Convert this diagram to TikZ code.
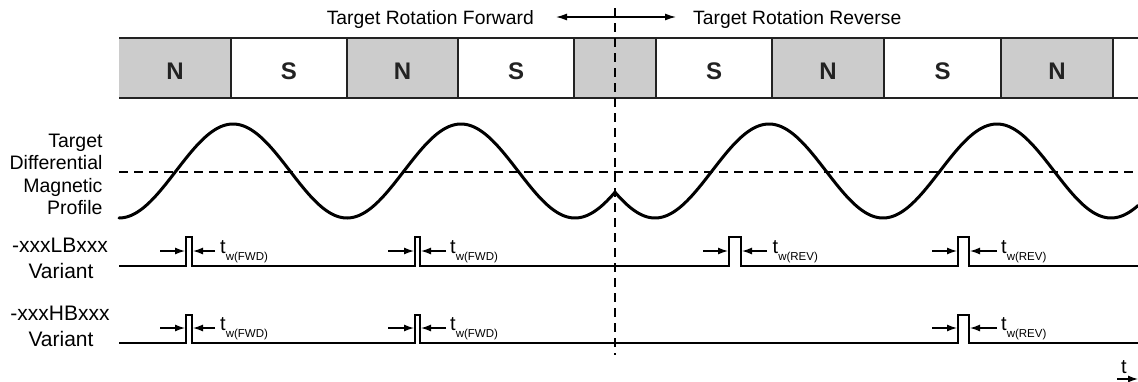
\documentclass[tikz,border=0pt]{standalone}
\usepackage{fontspec}
\setmainfont{Liberation Sans}
\usetikzlibrary{arrows.meta}
\definecolor{polegray}{HTML}{CCCCCC}
\definecolor{edgecol}{HTML}{222222}
\begin{document}
\begin{tikzpicture}[x=1pt,y=-1pt,
  poletxt/.style={font=\fontsize{24}{24}\selectfont\bfseries, inner sep=0pt, text=edgecol},
  lab/.style={font=\fontsize{19.5}{22}\selectfont, inner sep=0pt, anchor=base east},
  varlab/.style={font=\fontsize{21}{24}\selectfont, inner sep=0pt, anchor=base},
  toplab/.style={font=\fontsize{19.3}{22}\selectfont, inner sep=0pt},
  twlab/.style={font=\fontsize{20}{22}\selectfont, inner sep=0pt, anchor=base west},
  stripline/.style={draw=edgecol, line width=2.4pt},
  wave/.style={line width=3pt, line cap=round, line join=round},
  midline/.style={line width=2.4pt, dash pattern=on 9pt off 6pt},
  signal/.style={line width=2.4pt, line join=miter},
  dimarrow/.style={line width=1.3pt, -{Latex[length=10pt,width=7pt]}},
  dirarrow/.style={line width=1.3pt, -{Latex[length=11pt,width=7pt]}},
]
\useasboundingbox (0,0) rectangle (1138,381);

% ---- pole strip ----
\foreach \a/\b in {119/231,347/458,574/656,772/884,1001/1113}
  \fill[polegray] (\a,38) rectangle (\b,98);
\foreach \xx in {231,347,458,574,656,772,884,1001,1113}
  \draw[stripline] (\xx,38) -- (\xx,98);
\draw[stripline] (119,38) -- (1138,38);
\draw[stripline] (119,98) -- (1138,98);

\node[poletxt] (p1) at (175,71) {N};
\node[poletxt] (p2) at (289,71) {S};
\node[poletxt] (p3) at (402.5,71) {N};
\node[poletxt] (p4) at (516,71) {S};
\node[poletxt] (p6) at (714,71) {S};
\node[poletxt] (p7) at (828,71) {N};
\node[poletxt] (p8) at (942.5,71) {S};
\node[poletxt] (p9) at (1057,71) {N};

% ---- direction labels ----
\node[toplab, anchor=base east] (fwd) at (534,24) {Target Rotation Forward};
\node[toplab, anchor=base west] (rev) at (693,24) {Target Rotation Reverse};
\coordinate (dirc) at (615,17);
\coordinate (dirl) at (556,17);
\coordinate (dirr) at (676,17);
\draw[dirarrow] (dirc) -- (dirl);
\draw[dirarrow] (dirc) -- (dirr);

% ---- reversal line ----
\coordinate (revtop) at (615,8);
\coordinate (revbot) at (615,355);
\draw[midline] (revtop) -- (revbot);

% ---- magnetic profile ----
\node[lab] (l1) at (102.7,147.7) {Target};
\node[lab] (l2) at (102.7,169.9) {Differential};
\node[lab] (l3) at (102.7,192.1) {Magnetic};
\node[lab] (l4) at (102.7,214.3) {Profile};
\draw[midline] (119,172) -- (1138,172);
\draw[wave] plot[domain=119:615, samples=240] (\x, {171+47*cos((\x-119)*1.578947)});
\draw[wave] plot[domain=615:1138, samples=240] (\x, {171+47*cos((\x-655)*1.578947)});

% ---- LB variant ----
\node[varlab] (v1a) at (60,252) {-xxxLBxxx};
\node[varlab] (v1b) at (61,278) {Variant};
\draw[signal] (119,266) -- (186,266) -- (186,237) -- (192,237) -- (192,266)
  -- (415,266) -- (415,237) -- (420,237) -- (420,266)
  -- (729,266) -- (729,237) -- (741,237) -- (741,266)
  -- (958,266) -- (958,237) -- (969,237) -- (969,266) -- (1138,266);
\foreach \la/\lb/\ra/\rb in {160/185/215/193, 388/414/446/421, 703/728/767/742, 932/957/997/970}{
  \draw[dimarrow] (\la,251) -- (\lb,251);
  \draw[dimarrow] (\ra,251) -- (\rb,251);
}
\node[twlab] (tw1) at (220,253) {t\raisebox{-7pt}{\fontsize{11.5}{12}\selectfont w(FWD)}};
\node[twlab] (tw2) at (450,253) {t\raisebox{-7pt}{\fontsize{11.5}{12}\selectfont w(FWD)}};
\node[twlab] (tw3) at (772.5,253) {t\raisebox{-7pt}{\fontsize{11.5}{12}\selectfont w(REV)}};
\node[twlab] (tw4) at (1001,253) {t\raisebox{-7pt}{\fontsize{11.5}{12}\selectfont w(REV)}};

% ---- HB variant ----
\node[varlab] (v2a) at (60,320) {-xxxHBxxx};
\node[varlab] (v2b) at (61,346) {Variant};
\draw[signal] (119,343) -- (186,343) -- (186,315) -- (192,315) -- (192,343)
  -- (415,343) -- (415,315) -- (420,315) -- (420,343)
  -- (958,343) -- (958,315) -- (969,315) -- (969,343) -- (1138,343);
\foreach \la/\lb/\ra/\rb in {160/185/215/193, 388/414/446/421, 932/957/997/970}{
  \draw[dimarrow] (\la,328) -- (\lb,328);
  \draw[dimarrow] (\ra,328) -- (\rb,328);
}
\node[twlab] (tw5) at (220,330) {t\raisebox{-7pt}{\fontsize{11.5}{12}\selectfont w(FWD)}};
\node[twlab] (tw6) at (450,330) {t\raisebox{-7pt}{\fontsize{11.5}{12}\selectfont w(FWD)}};
\node[twlab] (tw7) at (1001,330) {t\raisebox{-7pt}{\fontsize{11.5}{12}\selectfont w(REV)}};

% ---- time axis ----
\node[twlab] (tax) at (1121,373) {t};
\coordinate (ta0) at (1117,379);
\coordinate (ta1) at (1138,379);
\draw[dimarrow] (ta0) -- (ta1);
\end{tikzpicture}
\end{document}
